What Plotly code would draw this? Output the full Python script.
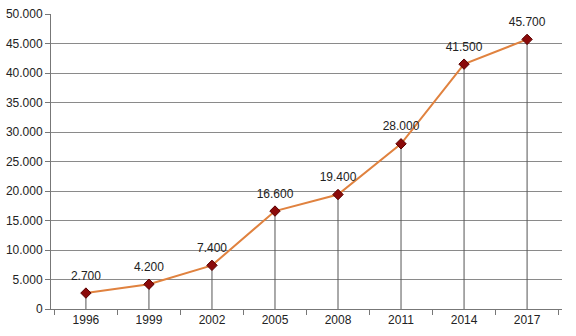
import plotly.graph_objects as go

years = ["1996", "1999", "2002", "2005", "2008", "2011", "2014", "2017"]
values = [2700, 4200, 7400, 16600, 19400, 28000, 41500, 45700]
zeros = [0] * len(values)

fig = go.Figure()
fig.add_trace(go.Scatter(
    x=years, y=values,
    mode="lines+markers",
    line=dict(color="#E0823F", width=2),
    marker=dict(symbol="diamond", size=8, color="#8B0A0A", line=dict(color="#5A0000", width=1)),
    error_y=dict(type="data", symmetric=False, array=zeros, arrayminus=values,
                 width=0, color="#555", thickness=1),
    cliponaxis=False,
    showlegend=False,
))
fig.add_trace(go.Scatter(
    x=years, y=values,
    mode="markers+text",
    marker=dict(size=15, opacity=0),
    text=values,
    texttemplate="%{y:,.0f}",
    textposition="top center",
    textfont=dict(family="Liberation Sans, Arial", size=12, color="#222"),
    cliponaxis=False,
    showlegend=False,
    hoverinfo="skip",
))

fig.update_layout(
    width=576, height=336,
    margin=dict(l=51, r=14, t=14, b=27),
    paper_bgcolor="white", plot_bgcolor="white",
    separators=",.",
    font=dict(family="Liberation Sans, Arial", size=12, color="#222"),
)
fig.update_xaxes(
    type="category", tickson="boundaries", ticks="outside", ticklen=5,
    tickcolor="#777", showgrid=False, showline=True, linecolor="#777",
    tickfont=dict(size=12, color="#222"), automargin=False,
)
fig.update_yaxes(
    range=[0, 50000], dtick=5000, tickformat=",.0f",
    ticks="outside", ticklen=5, tickcolor="#777",
    showgrid=True, gridcolor="#8a8a8a", gridwidth=1,
    showline=True, linecolor="#777", zeroline=False,
    tickfont=dict(size=12, color="#222"), automargin=False,
)

fig.write_html("out.html")
